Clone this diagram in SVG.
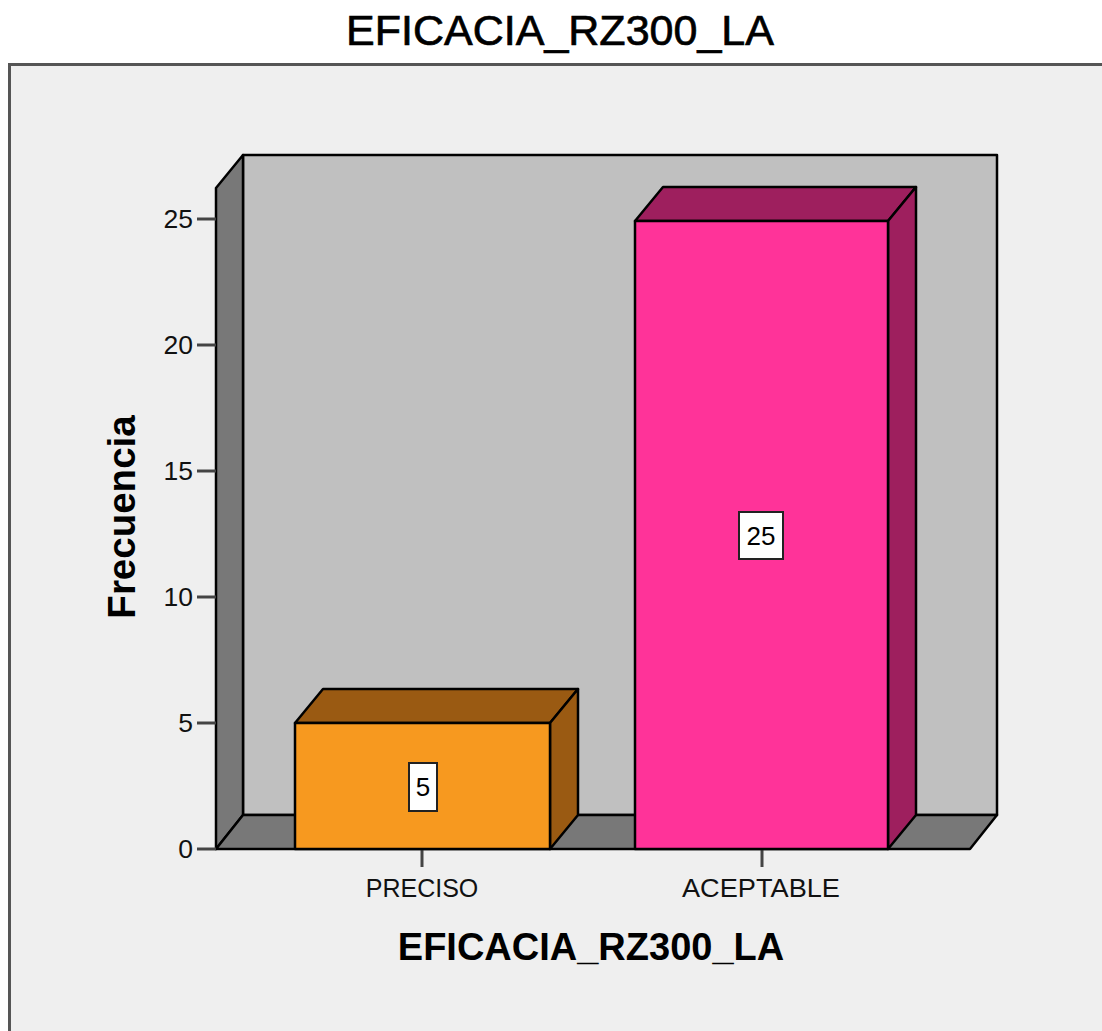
<svg xmlns="http://www.w3.org/2000/svg" width="1102" height="1031" viewBox="0 0 1102 1031">
<style>
.t{font-family:"Liberation Sans",Arial,sans-serif;fill:#000}
.tick{font-size:26.5px;text-anchor:end;fill:#111}
.cat{font-size:25px;text-anchor:middle;fill:#111}
.o{stroke:#000;stroke-width:2.5;stroke-linejoin:round}
.tk{stroke:#444;stroke-width:3}
.lbl{fill:#fff;stroke:#222;stroke-width:2}
</style>
<rect x="0" y="0" width="1102" height="1031" fill="#ffffff"/>
<rect id="frame" x="9.5" y="64.5" width="1110" height="1000" fill="#efefef" stroke="#555" stroke-width="3"/>
<text class="t" x="560" y="45" font-size="43" text-anchor="middle" stroke="#000" stroke-width="0.7">EFICACIA_RZ300_LA</text>
<g id="chart-frame">
<polygon class="o" points="243,155 997,155 997,815 243,815" fill="#c0c0c0"/>
<polygon class="o" points="216,188 243,155 243,815 216,849" fill="#787878"/>
<polygon class="o" points="216,849 243,815 997,815 970,849" fill="#787878"/>
</g>
<g id="axis">
<line class="tk" x1="197" y1="849" x2="216" y2="849"/>
<line class="tk" x1="197" y1="723" x2="216" y2="723"/>
<line class="tk" x1="197" y1="597" x2="216" y2="597"/>
<line class="tk" x1="197" y1="471" x2="216" y2="471"/>
<line class="tk" x1="197" y1="345" x2="216" y2="345"/>
<line class="tk" x1="197" y1="219" x2="216" y2="219"/>
<text class="t tick" x="193" y="858">0</text>
<text class="t tick" x="193" y="732">5</text>
<text class="t tick" x="193" y="606">10</text>
<text class="t tick" x="193" y="480">15</text>
<text class="t tick" x="193" y="354">20</text>
<text class="t tick" x="193" y="228">25</text>
<line class="tk" x1="422" y1="849" x2="422" y2="867"/>
<line class="tk" x1="762" y1="849" x2="762" y2="867"/>
<text class="t cat" x="422" y="897">PRECISO</text>
<text class="t cat" x="761" y="897" textLength="158" lengthAdjust="spacingAndGlyphs">ACEPTABLE</text>
<text class="t" x="591" y="960" font-size="38" font-weight="bold" text-anchor="middle">EFICACIA_RZ300_LA</text>
<text class="t" transform="translate(135,517) rotate(-90)" font-size="38.5" font-weight="bold" text-anchor="middle">Frecuencia</text>
</g>
<g id="bar-preciso">
<polygon class="o" points="295,723 323,689 578,689 550,723" fill="#9a5a12"/>
<polygon class="o" points="550,723 578,689 578,815 550,849" fill="#9a5a12"/>
<rect class="o" x="295" y="723" width="255" height="126" fill="#f7991f"/>
<rect class="lbl" x="409" y="763" width="28" height="48"/>
<text class="t" x="423" y="796" font-size="26" text-anchor="middle">5</text>
</g>
<g id="bar-aceptable">
<polygon class="o" points="635,221 663,187 916,187 888,221" fill="#9e1f5e"/>
<polygon class="o" points="888,221 916,187 916,815 888,849" fill="#9e1f5e"/>
<rect class="o" x="635" y="221" width="253" height="628" fill="#ff3399"/>
<rect class="lbl" x="739" y="512" width="44" height="47"/>
<text class="t" x="761" y="545" font-size="26" text-anchor="middle">25</text>
</g>
</svg>
